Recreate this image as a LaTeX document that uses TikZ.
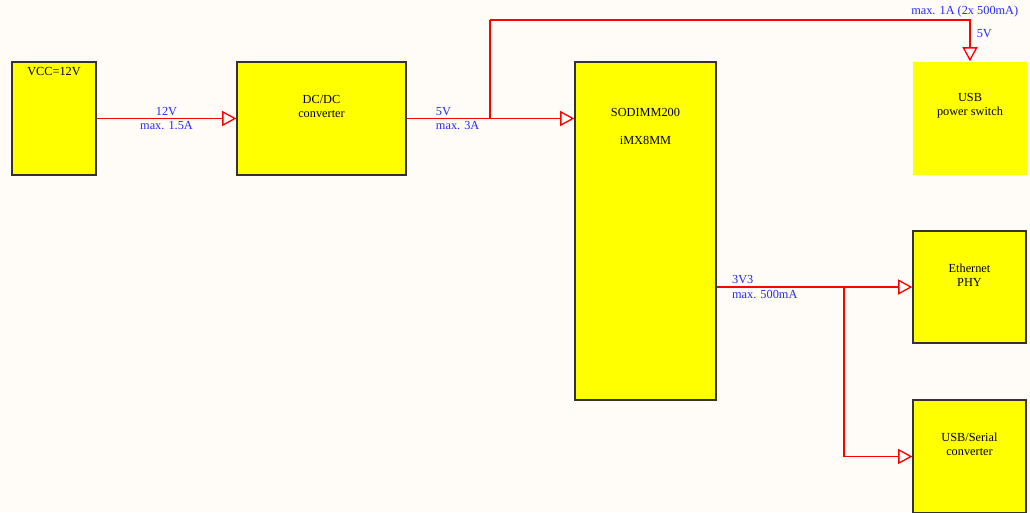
\documentclass[tikz,border=0pt]{standalone}
\usepackage{fontspec}
\setmainfont{Liberation Serif}
\usepackage{tikz}
\usetikzlibrary{arrows.meta, positioning}
\definecolor{bgcream}{RGB}{255,251,246}
\definecolor{boxyellow}{RGB}{255,255,0}
\definecolor{boxgray}{RGB}{51,51,51}
\definecolor{lblblue}{RGB}{40,40,245}
\definecolor{pwrred}{RGB}{255,0,0}

\begin{document}
\begin{tikzpicture}[
      blk/.style={rectangle, draw=boxgray, line width=0.8pt, fill=boxyellow, inner sep=0pt},
      txt/.style={font=\fontsize{7}{8}\selectfont, align=center, inner sep=0pt},
      lbl/.style={font=\fontsize{7}{8}\selectfont, lblblue, inner sep=1.5pt},
      pwr/.style={-{Triangle[open, length=8pt, width=8.5pt]}, pwrred, line width=0.75pt}
    ]
    \path[use as bounding box, fill=bgcream] (0,0) rectangle (20.6,-10.24);

    \node[blk, minimum width=1.68cm, minimum height=2.26cm] (vcc) at (1.08,-2.37) {};
    \node[blk, minimum width=3.38cm, minimum height=2.26cm] (dcdc) at (6.43,-2.37) {};
    \node[blk, minimum width=2.82cm, minimum height=6.76cm] (som) at (12.91,-4.62) {};
    \node[blk, draw=none, minimum width=2.28cm, minimum height=2.26cm] (usbsw) at (19.4,-2.37) {};
    \node[blk, minimum width=2.26cm, minimum height=2.24cm] (eth) at (19.39,-5.74) {};
    \node[blk, minimum width=2.26cm, minimum height=2.26cm] (uart) at (19.39,-9.13) {};

    \node[txt, below=0.12cm of vcc.north] (vcctxt) {VCC=12V};
    \node[txt, below=0.68cm of dcdc.north] (dcdctxt) {DC/DC\\converter};
    \node[txt, below=0.94cm of som.north] (somtxt) {SODIMM200\\[8pt]iMX8MM};
    \node[txt, below=0.64cm of usbsw.north] (usbswtxt) {USB\\power switch};
    \node[txt, below=0.66cm of eth.north] (ethtxt) {Ethernet\\PHY};
    \node[txt, below=0.66cm of uart.north] (uarttxt) {USB/Serial\\converter};

    \coordinate (split5v) at (9.8,-2.37);
    \coordinate (top5v) at (9.8,-0.4);
    \coordinate (split3v3) at (16.88,-5.74);

    \draw[pwr] (vcc) -- (dcdc)
      node[lbl, midway, above] {12V}
      node[lbl, midway, below] {max. 1.5A};
    \draw[pwr] (dcdc.east) -- (dcdc.east -| som.west)
      node[lbl, pos=0.155, anchor=south west] {5V}
      node[lbl, pos=0.155, anchor=north west] {max. 3A};
    \draw[pwrred, line width=0.75pt] (split5v) -- (top5v);
    \draw[pwr] (top5v) -| (usbsw.north)
      node[lbl, pos=0.5, above, xshift=-3pt] {max. 1A (2x 500mA)}
      node[lbl, pos=0.66, right, xshift=2pt] {5V};
    \draw[pwr] (som.east |- eth.west) -- (eth.west)
      node[lbl, pos=0.062, anchor=south west] {3V3}
      node[lbl, pos=0.062, anchor=north west] {max. 500mA};
    \draw[pwr] (split3v3) |- (uart.west);
  \end{tikzpicture}
\end{document}
